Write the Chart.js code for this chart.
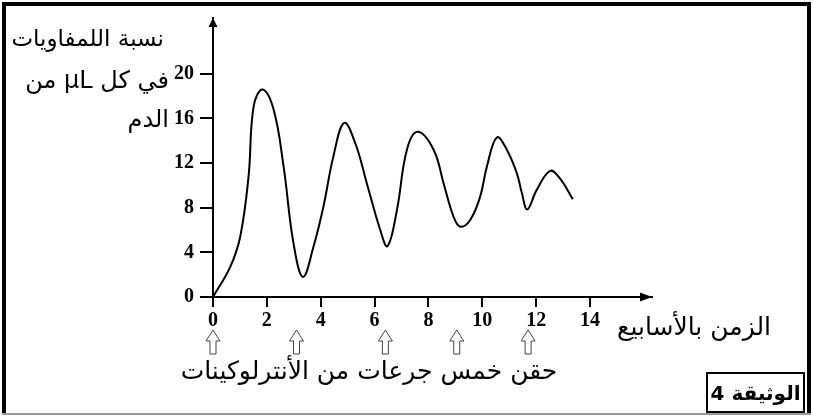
<!DOCTYPE html>
<html>
<head>
  <meta charset="utf-8">
  <title>الوثيقة 4</title>
  <script src="https://cdn.jsdelivr.net/npm/chart.js"></script>
  <style>
    html, body { margin: 0; padding: 0; background: #fff; }
    #wrap { width: 813px; height: 416px; }
  </style>
</head>
<body>
  <div id="wrap"><canvas id="lymphChart" width="813" height="416"></canvas></div>

  <script>
    // weeks and lymphocyte count
    const weeks = [0, 0.64, 1.01, 1.32, 1.51, 1.84, 2.25, 2.62, 2.99, 3.34, 3.73, 4.1, 4.47, 4.87,
      5.28, 5.71, 6.21, 6.48, 6.83, 7.2, 7.6, 8.19, 8.56, 8.93, 9.18, 9.55, 9.92, 10.17, 10.54,
      10.91, 11.28, 11.47, 11.67, 12.02, 12.52, 12.89, 13.36];
    const lymphocytes = [0, 2.7, 5.4, 10.8, 17.1, 18.6, 16.8, 11.7, 4.8, 1.8, 4.5, 8.1, 12.6, 15.6,
      13.8, 10.2, 6.0, 4.55, 7.8, 13.2, 14.8, 13.2, 10.2, 7.2, 6.3, 6.9, 9.0, 11.7, 14.3,
      13.2, 11.1, 9.3, 7.85, 9.6, 11.3, 10.6, 8.75];
    const xTicks = [0, 2, 4, 6, 8, 10, 12, 14];
    const yTicks = [0, 4, 8, 12, 16, 20];
    const injectionWeeks = [0, 3.1, 6.4, 9.05, 11.7];

    const yTitle = ['نسبة اللمفاويات', 'في كل μL من', 'الدم'];
    const xTitle = 'الزمن بالأسابيع';
    const injectionText = 'حقن خمس جرعات من الأنترلوكينات';
    const docLabel = 'الوثيقة 4';

    const arabicFont = '"DejaVu Sans", "Liberation Sans", sans-serif';

    const decorations = {
      id: 'decorations',
      beforeDraw(chart) {
        const ctx = chart.ctx;
        ctx.save();
        ctx.fillStyle = '#fff';
        ctx.fillRect(0, 0, chart.width, chart.height);
        ctx.restore();
      },
      afterDraw(chart) {
        const ctx = chart.ctx;
        const x = chart.scales.x;
        const area = chart.chartArea;
        ctx.save();

        // frame
        ctx.fillStyle = '#000';
        ctx.fillRect(2, 2, 809, 4);
        ctx.fillRect(2, 2, 4, 412);
        ctx.fillRect(807, 2, 4, 412);
        ctx.fillStyle = '#999';
        ctx.fillRect(2, 413, 809, 2);

        // axis arrows
        ctx.strokeStyle = '#000';
        ctx.fillStyle = '#000';
        ctx.lineWidth = 2;
        ctx.beginPath();
        ctx.moveTo(area.left - 13, area.bottom);
        ctx.lineTo(area.left, area.bottom);
        ctx.stroke();
        ctx.beginPath();
        ctx.moveTo(area.left, area.top);
        ctx.lineTo(area.left - 4.5, area.top + 9);
        ctx.lineTo(area.left + 4.5, area.top + 9);
        ctx.closePath();
        ctx.fill();
        ctx.beginPath();
        ctx.moveTo(area.right, area.bottom);
        ctx.lineTo(area.right - 12, area.bottom - 4.5);
        ctx.lineTo(area.right - 12, area.bottom + 4.5);
        ctx.closePath();
        ctx.fill();

        // hollow injection arrows
        ctx.strokeStyle = '#444';
        ctx.lineWidth = 1;
        injectionWeeks.forEach(w => {
          const px = x.getPixelForValue(w);
          ctx.beginPath();
          ctx.moveTo(px, 330);
          ctx.lineTo(px + 7, 341);
          ctx.lineTo(px + 3, 341);
          ctx.lineTo(px + 3, 354);
          ctx.lineTo(px - 3, 354);
          ctx.lineTo(px - 3, 341);
          ctx.lineTo(px - 7, 341);
          ctx.closePath();
          ctx.stroke();
        });

        // texts
        ctx.fillStyle = '#000';
        ctx.direction = 'rtl';
        ctx.textAlign = 'right';
        ctx.textBaseline = 'alphabetic';
        ctx.font = '23px ' + arabicFont;
        ctx.fillText(yTitle[0], 164, 46);
        ctx.font = '24px ' + arabicFont;
        ctx.fillText(yTitle[1], 169, 88);
        ctx.fillText(yTitle[2], 169, 127);
        ctx.font = '25px ' + arabicFont;
        ctx.fillText(xTitle, 771, 335);
        ctx.textAlign = 'center';
        ctx.fillText(injectionText, 369, 379);

        ctx.strokeStyle = '#000';
        ctx.lineWidth = 2;
        ctx.strokeRect(707, 373, 97, 39);
        ctx.font = 'bold 20px ' + arabicFont;
        ctx.fillText(docLabel, 755.5, 400);
        ctx.restore();
      }
    };

    const tickFont = { family: '"Liberation Serif", "Times New Roman", serif', size: 20, weight: 'bold' };

    new Chart(document.getElementById('lymphChart').getContext('2d'), {
      type: 'line',
      data: {
        datasets: [{
          data: weeks.map((w, i) => ({ x: w, y: lymphocytes[i] })),
          borderColor: '#000',
          borderWidth: 2,
          pointRadius: 0,
          tension: 0.4,
          fill: false
        }]
      },
      options: {
        responsive: false,
        animation: false,
        layout: { padding: { top: 18, right: 161, left: 0, bottom: 0 } },
        plugins: { legend: { display: false }, tooltip: { enabled: false } },
        scales: {
          x: {
            type: 'linear',
            min: 0,
            max: 16.3,
            afterBuildTicks: s => { s.ticks = xTicks.map(v => ({ value: v })); },
            afterFit: s => { s.height = 119; },
            grid: { drawOnChartArea: false, drawTicks: true, tickLength: 10, color: '#000', lineWidth: 2 },
            border: { display: true, color: '#000', width: 2 },
            ticks: { color: '#000', font: tickFont, padding: 2, maxRotation: 0, autoSkip: false }
          },
          y: {
            min: 0,
            max: 25,
            afterBuildTicks: s => { s.ticks = yTicks.map(v => ({ value: v })); },
            afterFit: s => { s.width = 213; },
            grid: { drawOnChartArea: false, drawTicks: true, tickLength: 13, color: '#000', lineWidth: 2 },
            border: { display: true, color: '#000', width: 2 },
            ticks: { color: '#000', font: tickFont, padding: 6, autoSkip: false }
          }
        }
      },
      plugins: [decorations]
    });
  </script>
</body>
</html>
